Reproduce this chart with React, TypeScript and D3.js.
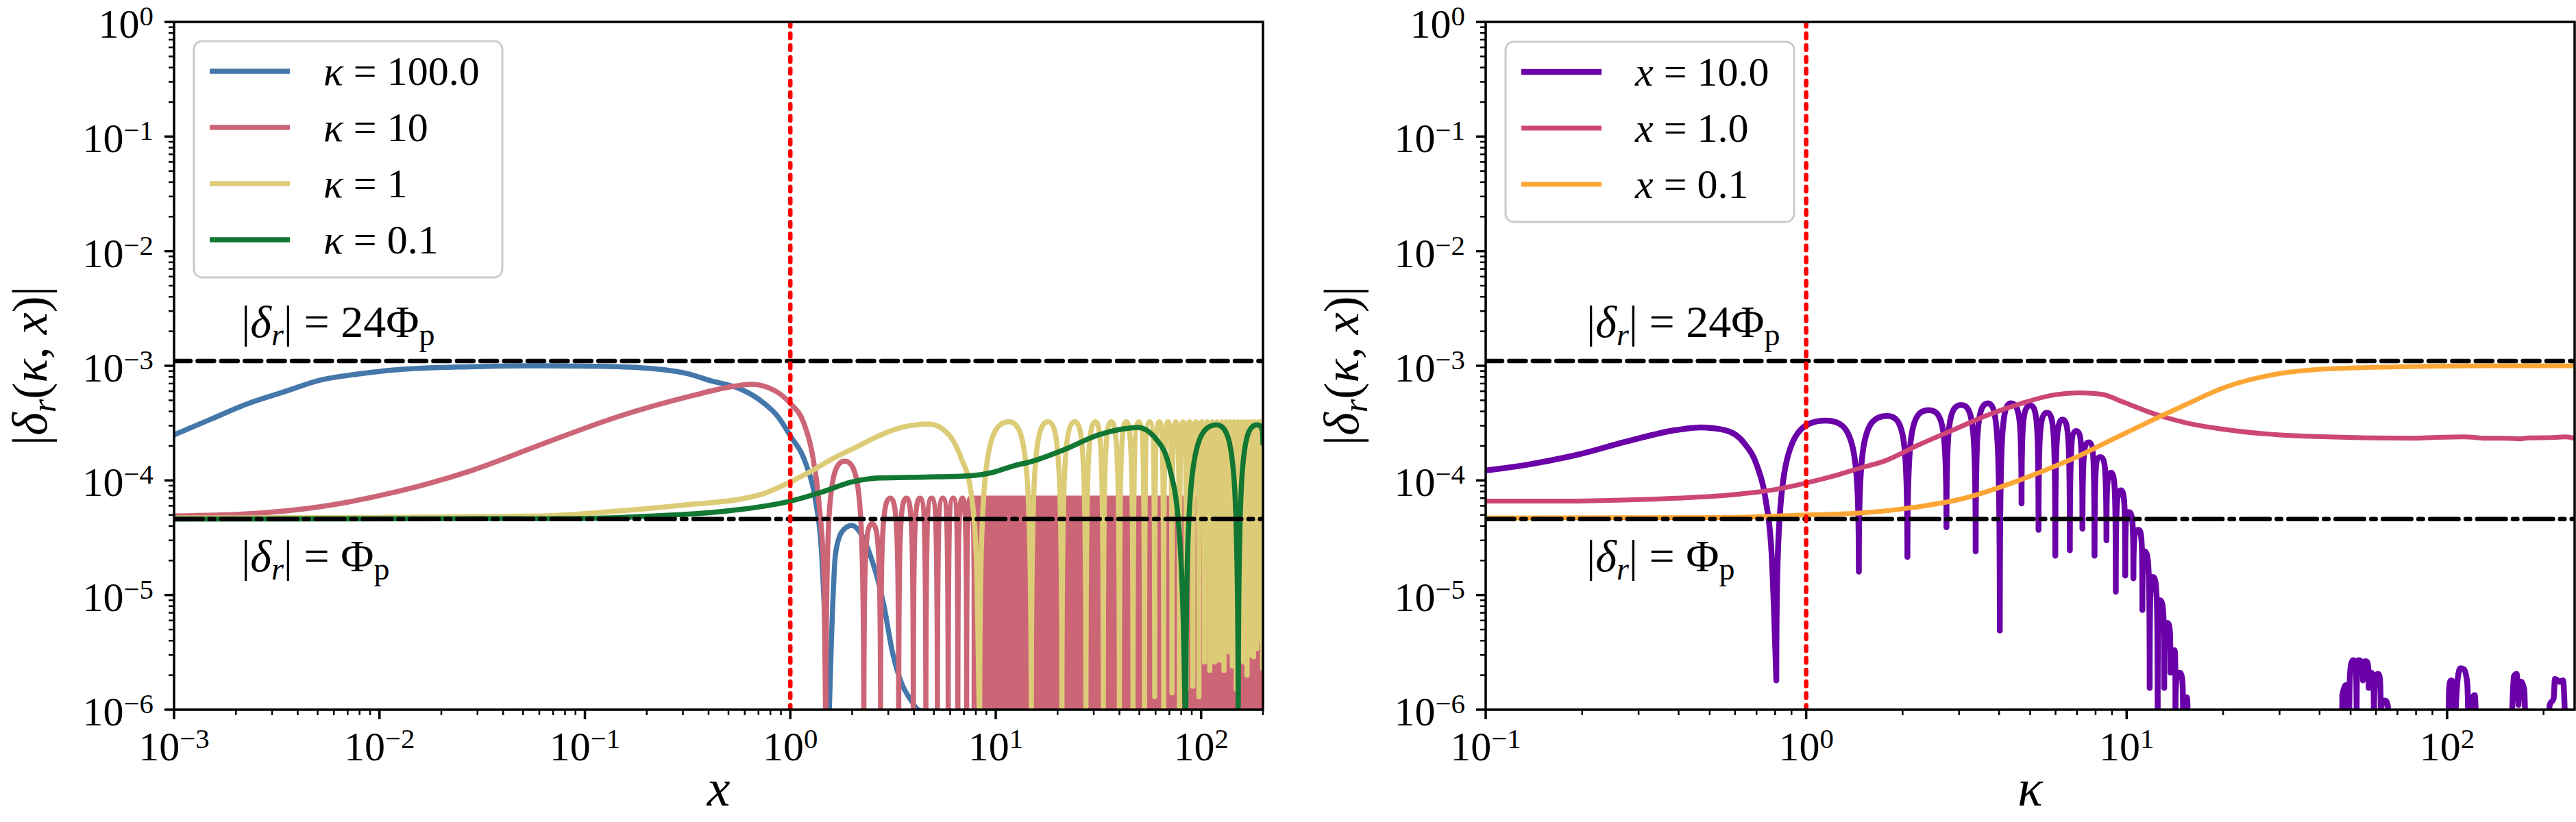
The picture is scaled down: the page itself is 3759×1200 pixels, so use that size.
import React from "react";
import * as d3 from "d3";

type Pt = [number, number];

// reference levels
const phiP = 4.6e-5;
const phi24 = 1.1e-3;

// left panel: |delta_r| vs x, one curve per kappa
const kappa100: Pt[] = [
  [0.001, 2.5e-4], [0.0015, 3.4e-4], [0.00223, 4.6e-4], [0.0035, 6.0e-4], [0.00515, 7.5e-4],
  [0.008, 8.5e-4], [0.0119, 9.2e-4], [0.0273, 9.8e-4], [0.063, 1.0e-3], [0.12, 9.9e-4],
  [0.22, 9.4e-4], [0.32, 8.5e-4], [0.41, 7.4e-4], [0.5, 6.8e-4], [0.58, 6.2e-4],
  [0.746, 4.7e-4], [0.87, 3.6e-4], [1.0, 2.45e-4], [1.19, 1.4e-4], [1.32, 7e-5],
  [1.42, 2.3e-5], [1.49, 3.1e-6], [1.53, 5e-7], [1.585, 4e-6], [1.66, 2.3e-5],
  [1.79, 3.6e-5], [1.99, 4.05e-5], [2.19, 3.5e-5], [2.5, 2.0e-5], [2.84, 8.5e-6],
  [3.15, 3.1e-6], [3.48, 1.7e-6], [3.88, 1.2e-6], [4.19, 1.0e-6], [5.5, 9e-7], [7, 5e-7], [200, 5e-7],
];

const kappa10: Pt[] = [
  [0.001, 4.9e-5], [0.00223, 5.1e-5], [0.00515, 5.9e-5], [0.0119, 7.9e-5], [0.0273, 1.2e-4],
  [0.063, 2.1e-4], [0.145, 3.6e-4], [0.335, 5.5e-4], [0.5, 6.5e-4], [0.65, 6.9e-4],
  [0.85, 6.0e-4], [1.0, 4.7e-4], [1.16, 3.2e-4], [1.28, 1.7e-4], [1.38, 6.3e-5],
  [1.46, 1.4e-5], [1.49, 5e-7], [1.84, 1.47e-4], [2.28, 5e-7], [2.5, 4.2e-5], [2.75, 5e-7],
  [3.07, 7e-5], [3.37, 5e-7], [3.67, 7e-5], [3.97, 5e-7], [4.28, 7e-5], [4.57, 5e-7],
  [4.87, 7e-5], [5.2, 5e-7], [5.53, 7e-5], [5.87, 5e-7], [6.21, 7e-5], [6.54, 5e-7],
  [6.88, 7e-5], [7.22, 5e-7], [7.53, 7e-5], [7.9, 5e-7],
];
// beyond x ~ 8 the kappa = 10 oscillation is unresolved: a solid band up to its peak level
const kappa10Band: Pt[] = [[7.85, 7e-5], [200, 7e-5]];

const kappa1: Pt[] = [
  [0.001, 4.7e-5], [0.01, 4.75e-5], [0.063, 4.9e-5], [0.145, 5.4e-5], [0.335, 6.2e-5],
  [0.58, 6.9e-5], [0.746, 7.7e-5], [1.0, 9.7e-5], [1.26, 1.2e-4], [1.61, 1.55e-4],
  [2.09, 1.95e-4], [2.7, 2.45e-4], [3.48, 2.9e-4], [4.74, 3.1e-4], [5.83, 2.57e-4],
  [6.8, 1.55e-4], [7.53, 8.5e-5], [8.03, 2.3e-5], [8.35, 5e-7],
  [11.6, 3.25e-4], [14.9, 5e-7], [18.0, 3.25e-4], [21.0, 5e-7], [24.3, 3.25e-4], [27.5, 5e-7],
  [30.6, 3.25e-4], [33.4, 5e-7], [36.5, 3.25e-4], [40.0, 5e-7], [43.2, 3.25e-4], [46.6, 5e-7],
  [49.7, 3.25e-4], [53.0, 8e-7], [56.2, 3.25e-4], [59.4, 1.3e-6], [62.6, 3.25e-4], [65.7, 9e-7],
  [68.9, 3.25e-4], [72.1, 1.4e-6], [75.2, 3.25e-4], [78.4, 8e-7], [81.6, 3.25e-4], [84.8, 1.5e-6],
  [87.9, 3.25e-4], [91.1, 1.6e-6], [94.3, 3.25e-4], [97.5, 1.3e-6], [100.6, 3.25e-4], [103.8, 2.6e-6],
  [107.0, 3.25e-4], [110.2, 2.2e-6], [113.3, 3.25e-4], [116.5, 2.6e-6], [119.7, 3.25e-4], [122.9, 2.7e-6],
  [126.0, 3.25e-4], [129.2, 2.2e-6], [132.4, 3.25e-4], [135.6, 3.2e-6], [138.7, 3.25e-4], [141.9, 2.4e-6],
  [145.1, 3.25e-4], [148.3, 1.5e-6], [151.4, 3.25e-4], [154.6, 2.8e-6], [157.8, 3.25e-4], [161.0, 2.6e-6],
  [164.1, 3.25e-4], [167.3, 2.0e-6], [170.5, 3.25e-4], [173.7, 3.0e-6], [176.8, 3.25e-4], [180.0, 2.9e-6],
  [183.2, 3.25e-4], [186.4, 3.4e-6], [189.5, 3.25e-4], [192.7, 4.0e-6], [195.9, 3.25e-4], [199.1, 2.3e-6],
  [200, 1.2e-4],
];

const kappa01: Pt[] = [
  [0.001, 4.6e-5], [0.095, 4.65e-5], [0.22, 4.9e-5], [0.41, 5.25e-5], [0.58, 5.6e-5],
  [1.0, 6.6e-5], [1.42, 7.9e-5], [1.99, 9.7e-5], [2.7, 1.05e-4], [4.51, 1.07e-4],
  [7.53, 1.1e-4], [9.75, 1.18e-4], [12.4, 1.35e-4], [14.7, 1.45e-4], [21.6, 1.86e-4],
  [31.7, 2.5e-4], [41, 2.8e-4], [49, 2.9e-4], [60.3, 2.3e-4], [70.3, 1.27e-4],
  [78, 3.8e-5], [82, 5.2e-6], [84.2, 5e-7], [119, 3.05e-4], [151.5, 5e-7],
  [186.5, 3.05e-4], [200, 2.1e-4],
];

// right panel: |delta_r| vs kappa, one curve per x
const x10: Pt[] = [
  [0.1, 1.22e-4], [0.137, 1.38e-4], [0.194, 1.68e-4], [0.276, 2.19e-4], [0.393, 2.75e-4],
  [0.468, 2.9e-4], [0.557, 2.75e-4], [0.642, 2.1e-4], [0.702, 1.35e-4], [0.746, 7e-5],
  [0.78, 2.3e-5], [0.807, 1.8e-6],
  [1.15, 3.33e-4], [1.46, 1.6e-5], [1.79, 3.65e-4], [2.07, 2.15e-5], [2.41, 4.1e-4],
  [2.74, 3.9e-5], [3.05, 4.55e-4], [3.38, 2.4e-5], [3.69, 4.7e-4], [4.02, 4.9e-6],
  [4.35, 4.7e-4], [4.7, 6.3e-5], [5.01, 4.5e-4], [5.31, 3.7e-5], [5.65, 3.9e-4],
  [5.99, 2.2e-5], [6.31, 3.4e-4], [6.65, 2.46e-5], [6.96, 2.7e-4], [7.28, 3.8e-5],
  [7.62, 2.15e-4], [7.94, 2.2e-5], [8.27, 1.6e-4], [8.65, 3.0e-5], [8.94, 1.17e-4],
  [9.25, 1.07e-5], [9.59, 8.2e-5], [9.9, 1.48e-5], [10.15, 5.3e-5], [10.5, 1.4e-5],
  [10.9, 3.7e-5], [11.2, 7.4e-6], [11.4, 2.4e-5], [11.8, 1.55e-6], [12.1, 1.44e-5],
  [12.5, 8e-7], [12.7, 9e-6], [13.1, 1.55e-6], [13.4, 5.7e-6], [13.7, 2.1e-6],
  [14.1, 3.3e-6], [14.2, 8e-7], [14.6, 2.1e-6], [15.0, 8e-7], [15.4, 1.28e-6], [15.5, 5e-7],
  [47.0, 5e-7], [47.1, 1.34e-6], [48.4, 1.64e-6], [49.5, 6e-7], [51.1, 2.7e-6], [52.2, 6e-7],
  [52.9, 2.7e-6], [54.6, 1.8e-6], [55.8, 2.65e-6], [56.9, 1.55e-6], [58.0, 2.1e-6],
  [59.1, 6e-7], [60.9, 2.05e-6], [62.1, 6e-7], [63.9, 1.2e-6], [65.8, 5e-7],
  [101, 5e-7], [103, 1.8e-6], [105.4, 6e-7], [108, 1.9e-6], [110, 2.3e-6], [113, 2.25e-6],
  [115.6, 1.7e-6], [116.7, 6e-7], [120, 1.28e-6], [122, 1.34e-6], [123.6, 5e-7],
  [158.5, 5e-7], [161.5, 1.95e-6], [164.8, 2.05e-6], [167, 1.1e-6], [170, 1.75e-6],
  [174, 1.5e-6], [176, 5e-7],
  [207, 5e-7], [209, 1.1e-6], [215, 1.25e-6], [217, 1.85e-6], [224, 1.75e-6],
  [230, 1.8e-6], [234.5, 5e-7], [250, 5e-7],
];

const x1: Pt[] = [
  [0.1, 6.6e-5], [0.194, 6.6e-5], [0.393, 7.0e-5], [0.557, 7.4e-5], [0.794, 8.3e-5],
  [1.0, 9.5e-5], [1.23, 1.1e-4], [1.5, 1.3e-4], [1.76, 1.48e-4], [2.25, 2.05e-4],
  [2.87, 2.75e-4], [3.67, 3.7e-4], [4.7, 4.7e-4], [6.0, 5.6e-4], [7.08, 5.8e-4],
  [8.34, 5.65e-4], [9.8, 4.8e-4], [11.6, 4.0e-4], [13.2, 3.55e-4], [15.2, 3.2e-4],
  [20.3, 2.78e-4], [29.7, 2.5e-4], [58, 2.35e-4], [80, 2.33e-4], [113, 2.4e-4],
  [130, 2.33e-4], [150, 2.33e-4], [169, 2.3e-4], [180, 2.35e-4], [215, 2.37e-4],
  [235, 2.4e-4], [250, 2.33e-4],
];

const x01: Pt[] = [
  [0.1, 4.7e-5], [0.557, 4.75e-5], [1.0, 5.0e-5], [1.5, 5.2e-5], [2.25, 5.9e-5],
  [3.12, 7.0e-5], [4.34, 9.4e-5], [5.53, 1.22e-4], [7.08, 1.63e-4], [9.08, 2.3e-4],
  [11.6, 3.2e-4], [15.2, 4.55e-4], [20.3, 6.5e-4], [27, 8.1e-4], [39.6, 9.3e-4],
  [70, 9.8e-4], [130, 1.0e-3], [250, 1.0e-3],
];

const leftLabels = ["100.0", "10", "1", "0.1"];
const rightLabels = ["10.0", "1.0", "0.1"];
const leftExps = [-3, -2, -1, 0, 1, 2];
const rightExps = [-1, 0, 1, 2];
const yExps = [0, -1, -2, -3, -4, -5, -6];

const W = 3759;
const H = 1200;
const TOP = 32;
const BOTTOM = 1036;
const FONT = "'Liberation Serif', 'DejaVu Serif', serif";
const K = 0.85;

type Series = { label: string; color: string; width: number; data: Pt[]; band?: Pt[] };

function curvePath(data: Pt[], x: any, y: any): string {
  const p = data.map(([a, b]) => [x(a), y(b)] as [number, number]);
  const cuts = [0];
  for (let i = 1; i < p.length - 1; i++) {
    // local minimum of the value = local maximum of screen y
    if (p[i][1] >= p[i - 1][1] && p[i][1] >= p[i + 1][1]) cuts.push(i);
  }
  cuts.push(p.length - 1);
  const mono = d3.line().curve(d3.curveMonotoneX);
  let out = "";
  for (let c = 0; c < cuts.length - 1; c++) {
    const seg = p.slice(cuts[c], cuts[c + 1] + 1);
    if (seg.length === 3) {
      const [a, m, b] = seg;
      if (a[1] - m[1] > 6 && b[1] - m[1] > 6) {
        // one lobe between two minima: steep at the minima, round at the top
        out +=
          `M${a[0]},${a[1]}C${a[0]},${a[1] + K * (m[1] - a[1])} ${m[0] - K * (m[0] - a[0])},${m[1]} ${m[0]},${m[1]}` +
          `C${m[0] + K * (b[0] - m[0])},${m[1]} ${b[0]},${b[1] + K * (m[1] - b[1])} ${b[0]},${b[1]}`;
        continue;
      }
    }
    out += mono(seg) ?? "";
  }
  return out;
}

function Pow({ e, size }: { e: number; size: number }) {
  return (
    <>
      <tspan>10</tspan>
      <tspan fontSize={size * 0.68} dy={-size * 0.3}>
        {e < 0 ? "\u2212" + -e : String(e)}
      </tspan>
    </>
  );
}

function Panel({ id, x0, x1, domain, exps, series, legend, legendW, varName, xLabel, noteDx }: any) {
  const x = d3.scaleLog().domain(domain).range([x0, x1]);
  const y = d3.scaleLog().domain([1e-6, 1]).range([BOTTOM, TOP]);

  const minorX: number[] = [];
  for (let e = exps[0] - 1; e <= exps[exps.length - 1]; e++) {
    for (let m = 2; m <= 9; m++) {
      const v = m * Math.pow(10, e);
      if (v > domain[0] && v <= domain[1] * 1.001) minorX.push(v);
    }
  }
  const minorY: number[] = [];
  for (let e = -6; e < 0; e++) for (let m = 2; m <= 9; m++) minorY.push(m * Math.pow(10, e));

  const area = d3
    .area<Pt>()
    .x((d) => x(d[0]))
    .y0(BOTTOM + 20)
    .y1((d) => y(d[1]));

  const tickSize = 60;
  const lx = legend.x;
  const rows = series.length;
  const boxH = 44 + (rows - 1) * 82 + 55;
  const noteX = x0 + noteDx;

  return (
    <g>
      <defs>
        <clipPath id={id}>
          <rect x={x0} y={TOP} width={x1 - x0} height={BOTTOM - TOP} />
        </clipPath>
      </defs>

      <g clipPath={`url(#${id})`} fill="none" strokeLinecap="round" strokeLinejoin="round">
        {series.map((s: Series) => (
          <g key={s.label}>
            {s.band && (
              <path d={area(s.band) ?? ""} fill={s.color} stroke={s.color} strokeWidth={s.width} />
            )}
            <path d={curvePath(s.data, x, y)} stroke={s.color} strokeWidth={s.width} />
          </g>
        ))}
        <line x1={x0} x2={x1} y1={y(phi24)} y2={y(phi24)} stroke="#000" strokeWidth={6.5} strokeDasharray="24 10.4" />
        <line x1={x0} x2={x1} y1={y(phiP)} y2={y(phiP)} stroke="#000" strokeWidth={6.5} strokeDasharray="41.6 10.4 6.5 10.4" />
        <line x1={x(1)} x2={x(1)} y1={BOTTOM} y2={TOP} stroke="#ff0000" strokeWidth={6.5} strokeDasharray="6.5 10.7" />
      </g>

      {/* frame */}
      <rect x={x0} y={TOP} width={x1 - x0} height={BOTTOM - TOP} fill="none" stroke="#000" strokeWidth={3.5} />

      {/* ticks */}
      {exps.map((e: number) => {
        const px = x(Math.pow(10, e));
        return <line key={"xM" + e} x1={px} x2={px} y1={BOTTOM} y2={BOTTOM + 14} stroke="#000" strokeWidth={3.5} />;
      })}
      {minorX.map((v) => (
        <line key={"xm" + v} x1={x(v)} x2={x(v)} y1={BOTTOM} y2={BOTTOM + 8} stroke="#000" strokeWidth={2.5} />
      ))}
      {yExps.map((e) => (
        <line key={"yM" + e} x1={x0 - 14} x2={x0} y1={y(Math.pow(10, e))} y2={y(Math.pow(10, e))} stroke="#000" strokeWidth={3.5} />
      ))}
      {minorY.map((v) => (
        <line key={"ym" + v} x1={x0 - 8} x2={x0} y1={y(v)} y2={y(v)} stroke="#000" strokeWidth={2.5} />
      ))}

      {/* tick labels */}
      <g fontFamily={FONT} fontSize={tickSize} fill="#000">
        {exps.map((e: number) => (
          <text key={"xl" + e} x={x(Math.pow(10, e))} y={1110} textAnchor="middle">
            <Pow e={e} size={tickSize} />
          </text>
        ))}
        {yExps.map((e) => (
          <text key={"yl" + e} x={x0 - 30} y={y(Math.pow(10, e)) + 23} textAnchor="end">
            <Pow e={e} size={tickSize} />
          </text>
        ))}
      </g>

      {/* axis labels */}
      <g fontFamily={FONT} fill="#000">
        <text x={(x0 + x1) / 2} y={1176} textAnchor="middle" fontSize={76} fontStyle="italic">
          {xLabel}
        </text>
        <text transform={`translate(${x0 - 186},${(TOP + BOTTOM) / 2}) rotate(-90)`} textAnchor="middle" fontSize={72}>
          <tspan>|</tspan>
          <tspan fontStyle="italic">δ</tspan>
          <tspan fontStyle="italic" fontSize={50} dy={13}>r</tspan>
          <tspan dy={-13}>(</tspan>
          <tspan fontStyle="italic">κ</tspan>
          <tspan>, </tspan>
          <tspan fontStyle="italic">x</tspan>
          <tspan>)|</tspan>
        </text>
      </g>

      {/* annotations */}
      <g fontFamily={FONT} fontSize={66} fill="#000">
        <text x={noteX} y={492}>
          <tspan>|</tspan>
          <tspan fontStyle="italic">δ</tspan>
          <tspan fontStyle="italic" fontSize={46} dy={12}>r</tspan>
          <tspan dy={-12}>| = 24Φ</tspan>
          <tspan fontSize={46} dy={12}>p</tspan>
        </text>
        <text x={noteX} y={834}>
          <tspan>|</tspan>
          <tspan fontStyle="italic">δ</tspan>
          <tspan fontStyle="italic" fontSize={46} dy={12}>r</tspan>
          <tspan dy={-12}>| = Φ</tspan>
          <tspan fontSize={46} dy={12}>p</tspan>
        </text>
      </g>

      {/* legend */}
      <rect x={lx} y={legend.y} width={legendW} height={boxH} rx={12} fill="#fff" fillOpacity={0.8} stroke="#cccccc" strokeWidth={3} />
      {series.map((s: Series, i: number) => {
        const ry = legend.y + 44 + i * 82;
        return (
          <g key={"lg" + i}>
            <line x1={lx + 23} x2={lx + 140} y1={ry} y2={ry} stroke={s.color} strokeWidth={s.width} />
            <text x={lx + 189} y={ry + 20} fontFamily={FONT} fontSize={60} fill="#000">
              <tspan fontStyle="italic">{varName}</tspan>
              <tspan>{" = " + s.label}</tspan>
            </text>
          </g>
        );
      })}
    </g>
  );
}

export default function App() {
  const leftSeries: Series[] = [
    { label: leftLabels[0], color: "#4477aa", width: 7.5, data: kappa100 },
    { label: leftLabels[1], color: "#cc6677", width: 7.5, data: kappa10, band: kappa10Band },
    { label: leftLabels[2], color: "#ddcc77", width: 7.5, data: kappa1 },
    { label: leftLabels[3], color: "#117733", width: 7.5, data: kappa01 },
  ];
  const rightSeries: Series[] = [
    { label: rightLabels[0], color: "#6a00a8", width: 8.5, data: x10 },
    { label: rightLabels[1], color: "#cc4778", width: 7, data: x1 },
    { label: rightLabels[2], color: "#fca636", width: 7, data: x01 },
  ];

  return (
    <svg
      width={W}
      height={H}
      viewBox={`0 0 ${W} ${H}`}
      style={{ position: "absolute", left: 0, top: 0, background: "#fff" }}
    >
      <rect x={0} y={0} width={W} height={H} fill="#fff" />
      <Panel
        id="clipL"
        x0={254}
        x1={1843}
        domain={[1e-3, 200]}
        exps={leftExps}
        series={leftSeries}
        legend={{ x: 283, y: 60 }}
        legendW={450}
        varName="κ"
        xLabel="x"
        noteDx={98}
      />
      <Panel
        id="clipR"
        x0={2168}
        x1={3757}
        domain={[0.1, 250]}
        exps={rightExps}
        series={rightSeries}
        legend={{ x: 2197, y: 61 }}
        legendW={421}
        varName="x"
        xLabel="κ"
        noteDx={147}
      />
    </svg>
  );
}
